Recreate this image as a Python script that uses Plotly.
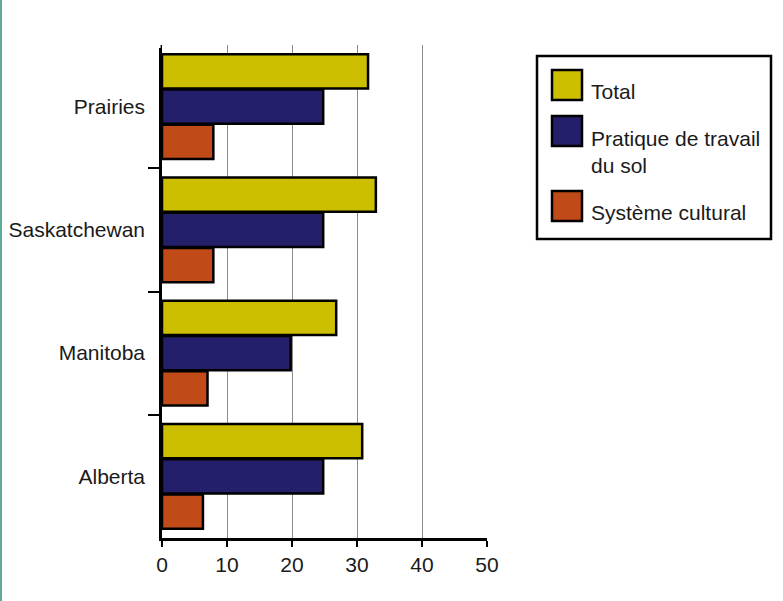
import plotly.graph_objects as go

W, H = 783, 601

categories = ["Prairies", "Saskatchewan", "Manitoba", "Alberta"]
series_names = ["Total", "Pratique de travail du sol", "Système cultural"]
legend_labels = ["Total", "Pratique de travail<br>du sol", "Système cultural"]
total = [31.7, 32.9, 26.8, 30.8]
pratique = [24.8, 24.8, 19.8, 24.8]
systeme = [7.9, 7.9, 7.0, 6.3]
x_ticks = [0, 10, 20, 30, 40, 50]

colors = ["#CCBF00", "#231F6B", "#C04A18"]
values = [total, pratique, systeme]

FONT = "Liberation Sans, Arial, sans-serif"
FS = 21
TXT = "#1a1a1a"

fig = go.Figure()
for name, vals, col in zip(series_names, values, colors):
    fig.add_trace(go.Bar(
        y=categories, x=vals, name=name, orientation="h",
        marker=dict(color=col, line=dict(color="#000000", width=2.5)),
        showlegend=False,
    ))

def px_x(p):
    return p / W

def px_y(p):
    return 1 - p / H

shapes = []
annotations = []
# left teal border
shapes.append(dict(type="rect", xref="paper", yref="paper",
                   x0=0, x1=px_x(2), y0=0, y1=1,
                   fillcolor="#5BAA9A", line=dict(width=0), layer="above"))
# hide the top boundary tick (absent in the original)
shapes.append(dict(type="rect", xref="paper", yref="paper",
                   x0=px_x(146), x1=px_x(160.6), y0=px_y(48), y1=px_y(42),
                   fillcolor="white", line=dict(width=0), layer="above"))
# legend box
shapes.append(dict(type="rect", xref="paper", yref="paper",
                   x0=px_x(537), x1=px_x(771), y0=px_y(239), y1=px_y(56),
                   fillcolor="white", line=dict(color="black", width=2.5)))
sw_tops = [70, 116, 191]
text_y = [91.5, 151.5, 212]
for i, (lab, col) in enumerate(zip(legend_labels, colors)):
    t = sw_tops[i]
    shapes.append(dict(type="rect", xref="paper", yref="paper",
                       x0=px_x(552), x1=px_x(582), y0=px_y(t + 30), y1=px_y(t),
                       fillcolor=col, line=dict(color="black", width=2.5)))
    annotations.append(dict(xref="paper", yref="paper", x=px_x(589), y=px_y(text_y[i]),
                            text=lab, showarrow=False, xanchor="left", yanchor="middle",
                            align="left",
                            font=dict(family=FONT, size=FS, color=TXT)))

fig.update_layout(
    width=W, height=H,
    margin=dict(l=0, r=0, t=0, b=0),
    paper_bgcolor="white", plot_bgcolor="white",
    barmode="group", bargap=0.14, bargroupgap=0.03,
    showlegend=False,
    font=dict(family=FONT, size=FS, color=TXT),
    xaxis=dict(
        domain=[162 / W, 487 / W], range=[0, 50], tickvals=x_ticks,
        showgrid=True, gridcolor="#8c8c8c", gridwidth=1,
        zeroline=False, showline=True, linecolor="black", linewidth=2.5,
        ticks="outside", ticklen=6, tickwidth=1.5, tickcolor="black",
        automargin=False, tickfont=dict(family=FONT, size=FS, color=TXT),
    ),
    yaxis=dict(
        domain=[1 - 538 / H, 1 - 45 / H], autorange="reversed",
        type="category", showgrid=False, zeroline=False,
        showline=True, linecolor="black", linewidth=2.5,
        ticks="outside", tickson="boundaries", ticklen=11, tickwidth=2, tickcolor="black",
        ticklabelstandoff=10,
        automargin=False, tickfont=dict(family=FONT, size=FS, color=TXT),
    ),
    shapes=shapes, annotations=annotations,
)

fig.write_html("out.html")
